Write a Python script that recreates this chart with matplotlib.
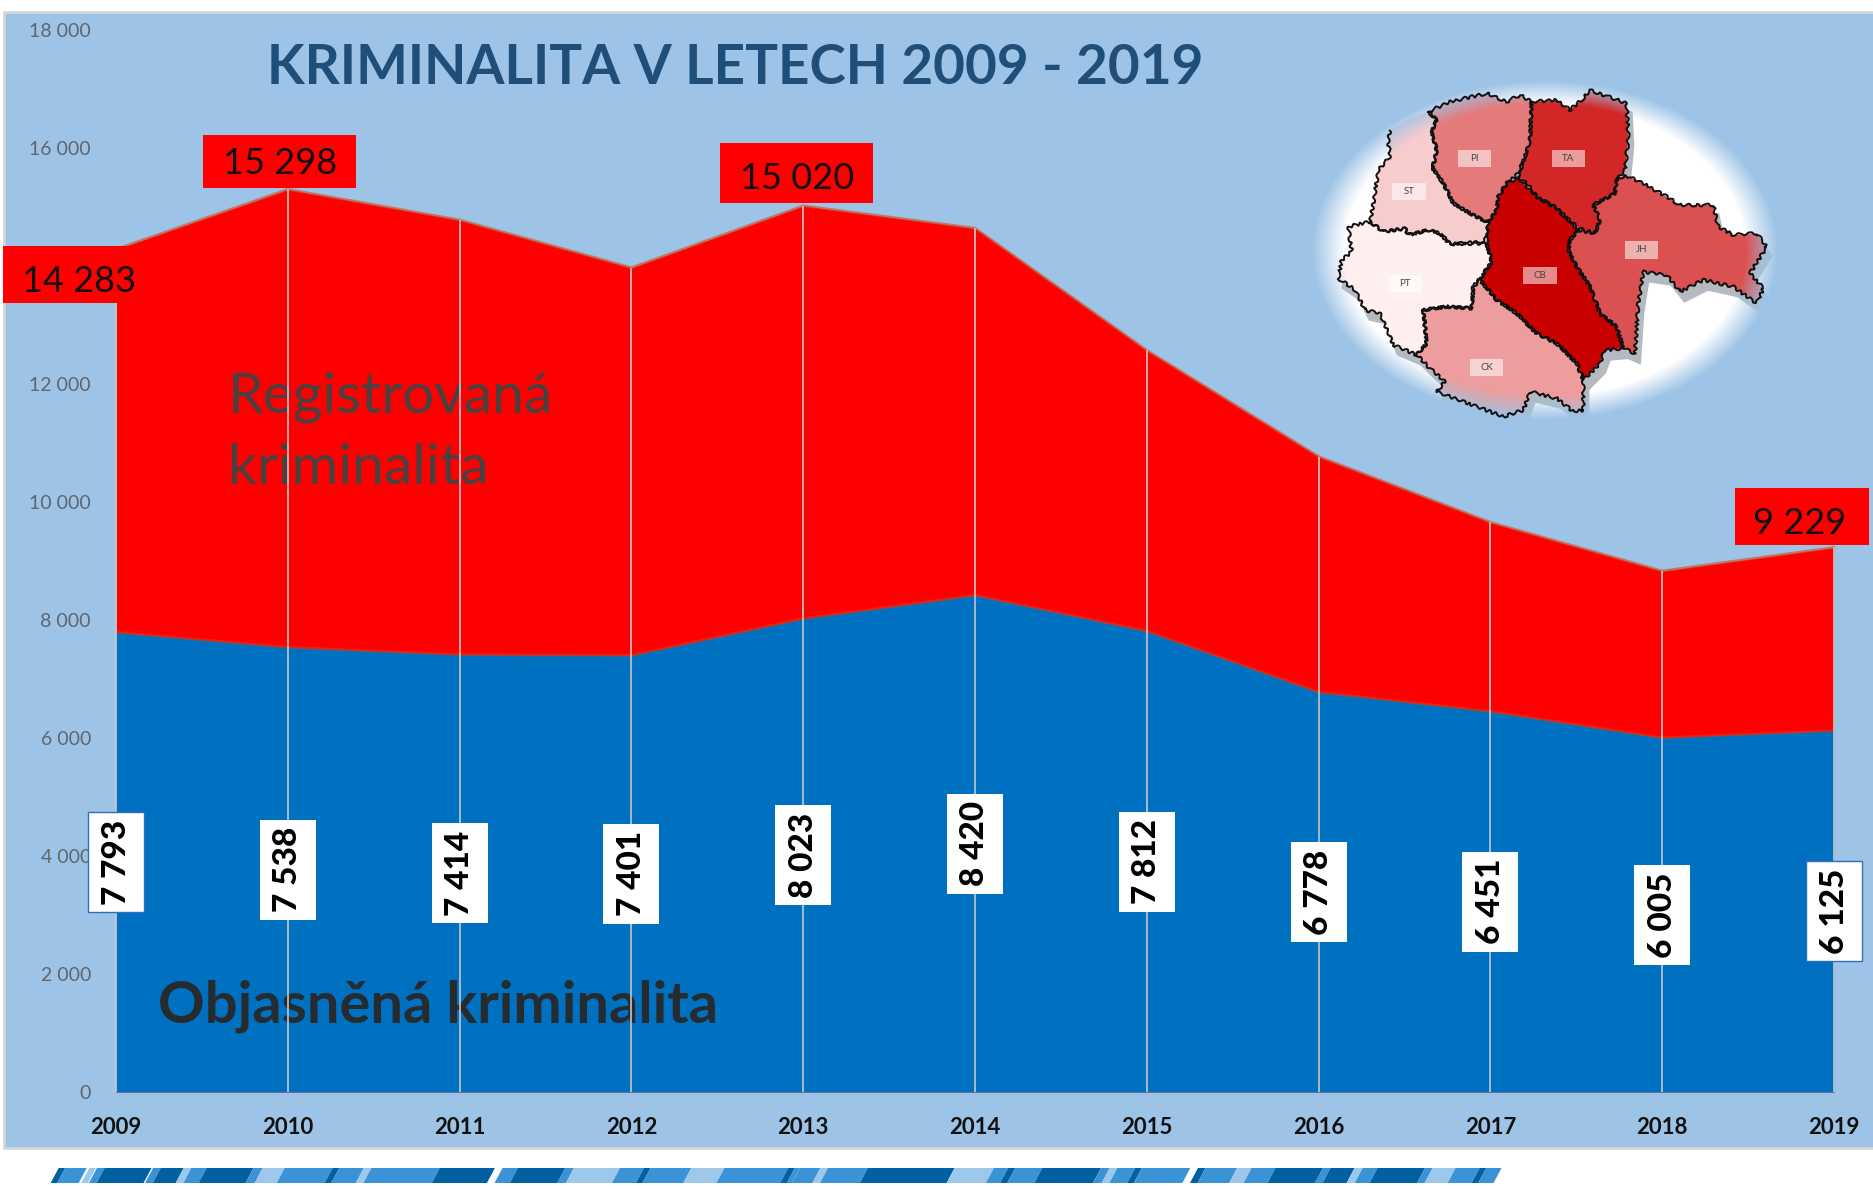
import numpy as np
import matplotlib
matplotlib.use("Agg")
import matplotlib.pyplot as plt
from matplotlib.patches import Rectangle, Polygon

W, H = 1874, 1189
plt.rcParams['font.family'] = ['Lato', 'DejaVu Sans']

years = [2009, 2010, 2011, 2012, 2013, 2014, 2015, 2016, 2017, 2018, 2019]
registered = [14283, 15298, 14780, 13970, 15020, 14640, 12570, 10770, 9655, 8830, 9229]
solved = [7793, 7538, 7414, 7401, 8023, 8420, 7812, 6778, 6451, 6005, 6125]
yticks = [0, 2000, 4000, 6000, 8000, 10000, 12000, 16000, 18000]
peak_years = [2009, 2010, 2013, 2019]

PANEL = '#9DC3E6'
BLUE = '#0070C0'
RED = '#FF0000'


def thin(v):
    return f"{v:,}".replace(",", " ")


fig = plt.figure(figsize=(W / 100, H / 100), dpi=100, facecolor='white')

# background panel and the striped band under it, in pixels
bg = fig.add_axes([0, 0, 1, 1], zorder=0)
bg.set_xlim(0, W)
bg.set_ylim(H, 0)
bg.axis('off')
bg.add_patch(Rectangle((4, 12), W, 1136, fc=PANEL, ec='#D3D6DA', lw=2))

dark, mid, light = '#0060A2', '#3A93D6', '#9DC8EC'
band_left = [(115, 128, dark), (128, 170, mid), (175, 188, light), (190, 205, mid), (205, 297, dark),
             (300, 315, mid), (315, 360, dark), (360, 375, light), (375, 405, mid), (405, 497, dark),
             (497, 515, mid), (515, 558, light), (558, 652, mid), (652, 665, dark), (665, 713, mid),
             (713, 728, light), (728, 862, mid), (862, 970, dark), (985, 1015, mid), (1015, 1108, dark),
             (1108, 1125, mid), (1125, 1215, light), (1215, 1262, mid), (1262, 1275, dark),
             (1275, 1355, mid), (1355, 1420, light), (1420, 1545, mid), (1545, 1558, dark), (1558, 1568, mid)]
band_right = [(0, 40, mid), (40, 55, light), (55, 133, mid), (133, 303, dark), (303, 380, light),
              (380, 408, mid), (408, 422, dark), (422, 475, mid), (475, 590, dark), (590, 607, mid),
              (607, 622, light), (622, 657, mid), (657, 670, dark), (670, 765, mid), (780, 795, dark),
              (795, 857, mid), (857, 885, light), (885, 932, mid), (932, 1025, dark), (1025, 1040, mid),
              (1040, 1087, dark), (1087, 1103, light), (1103, 1132, mid), (1132, 1225, dark),
              (1225, 1240, mid), (1240, 1285, light), (1285, 1332, mid), (1332, 1345, dark), (1345, 1375, mid)]
segs = [(a / 1.96, b / 1.96, c) for a, b, c in band_left] + [(800 + a / 1.96, 800 + b / 1.96, c) for a, b, c in band_right]
for a, b, c in segs:
    bg.add_patch(Polygon([(a, 1168), (b, 1168), (b - 8, 1183), (a - 8, 1183)], fc=c, ec='none'))

# main chart
x0, x1, ytop, y0 = 116, 1834, 30, 1092
ax = fig.add_axes([x0 / W, 1 - y0 / H, (x1 - x0) / W, (y0 - ytop) / H], zorder=1)
ax.patch.set_visible(False)
ax.set_xlim(2009, 2019)
ax.set_ylim(0, 18000)
for s in ax.spines.values():
    s.set_visible(False)

ax.fill_between(years, registered, color=RED, lw=0, zorder=1)
ax.plot(years, registered, color='#D8441A', lw=2, alpha=0.6, zorder=1.2, clip_on=False)
ax.fill_between(years, solved, color=BLUE, lw=0, zorder=1.5)
ax.plot(years, solved, color='#D8441A', lw=2, alpha=0.45, zorder=1.6)

ax.set_xticks(years)
ax.set_xticklabels(years, fontsize=16, fontweight='bold', color='#111111')
ax.set_yticks(yticks)
ax.set_yticklabels([thin(v) for v in yticks], fontsize=14, color='#5F6670')
ax.tick_params(length=0)
ax.tick_params(axis='x', pad=18)
ax.tick_params(axis='y', pad=18)

ax.text(2009.65, 11510, "Registrovaná", fontsize=41, color='#4A4040', zorder=3)
ax.text(2009.65, 10300, "kriminalita", fontsize=41, color='#4A4040', zorder=3)
ax.text(2009.245, 1170, "Objasněná kriminalita", fontsize=41.7, fontweight='bold', color='#262B30', zorder=3)

# drop lines run over the texts
ax.vlines(years, 0, registered, color='#C4C8CC', lw=1.2, zorder=4, clip_on=False)

px = (x1 - x0) / 10
py = (y0 - ytop) / 18000

# white vertical labels, centred in the blue area
for i, (yr, v) in enumerate(zip(years, solved)):
    edge = i in (0, len(years) - 1)
    ax.add_patch(Rectangle((yr - 28 / px, v / 2 - 50 / py), 56 / px, 100 / py, fc='white',
                           ec='#2F6FC0' if edge else 'none', lw=1, zorder=5, clip_on=False))
    ax.text(yr, v / 2, thin(v), rotation=90, ha='center', va='center', fontsize=24,
            fontweight=900, color='black', zorder=6)

# red labels: box left, right, centre y, height, text x, text y, pixels from the point
peak_box = [(-113, 20, 25, 57, -37, 32), (-85, 68, -28, 53, -8, -26),
            (-83, 70, -33, 60, -6, -27), (-99, 35, -31, 57, -34, -24)]
for yr, (l, r, dy, h, tx, ty) in zip(peak_years, peak_box):
    v = registered[years.index(yr)]
    ax.add_patch(Rectangle((yr + l / px, v - (dy + h / 2) / py), (r - l) / px, h / py, fc=RED, ec='none',
                           zorder=5, clip_on=False))
    ax.text(yr + tx / px, v - ty / py, thin(v), ha='center', va='center', fontsize=26, color='#111111',
            zorder=6, clip_on=False)

fig.text(735 / W, 1 - 68 / H, "KRIMINALITA V LETECH 2009 - 2019", fontsize=39.5, fontweight='bold',
         color='#1F4E79', ha='center', va='center', zorder=3)

# inset district map, under the chart so its corner never covers the red area
mx, my, mw, mh = 1290, 70, 520, 370
m = fig.add_axes([mx / W, 1 - (my + mh) / H, mw / W, mh / H], zorder=0.5)
m.set_xlim(0, 1560)
m.set_ylim(1110, 0)
m.axis('off')

districts = {
    'ST': ('#F7CCCD', (357, 365), [(415, 125), (440, 150), (425, 185), (440, 240), (428, 295), (460, 340), (490, 400),
                                   (540, 430), (595, 458), (585, 515), (480, 522), (450, 490), (415, 480), (355, 495),
                                   (345, 475), (280, 485), (240, 455), (250, 400), (265, 300), (300, 260), (295, 215),
                                   (300, 180), (350, 150)]),
    'PI': ('#E57A7A', (553, 265), [(415, 125), (480, 95), (590, 70), (650, 95), (690, 75), (725, 95), (720, 210),
                                   (705, 260), (685, 310), (650, 340), (625, 380), (620, 420), (595, 458), (540, 430),
                                   (490, 400), (460, 340), (428, 295), (440, 240), (425, 185), (440, 150)]),
    'TA': ('#D32626', (835, 265), [(725, 95), (800, 90), (840, 120), (880, 85), (900, 60), (1010, 100), (1015, 200),
                                   (1005, 300), (980, 330), (975, 370), (910, 405), (930, 450), (915, 490), (865, 475),
                                   (800, 415), (740, 380), (715, 345), (685, 320), (705, 260), (720, 210)]),
    'JH': ('#DB5050', (1055, 540), [(1005, 315), (1060, 340), (1130, 380), (1170, 405), (1270, 405), (1285, 470),
                                    (1330, 495), (1400, 490), (1430, 530), (1380, 610), (1420, 655), (1400, 700),
                                    (1330, 650), (1240, 630), (1170, 665), (1130, 615), (1060, 605), (1045, 700),
                                    (1035, 850), (1000, 835), (980, 770), (930, 730), (900, 650), (860, 590), (835, 540),
                                    (840, 510), (865, 480), (915, 490), (930, 450), (910, 405), (975, 370), (980, 330)]),
    'CB': ('#C80000', (750, 617), [(685, 325), (740, 380), (800, 415), (865, 480), (840, 510), (835, 540), (860, 590),
                                   (900, 650), (930, 730), (980, 770), (1000, 835), (945, 840), (930, 880), (880, 930),
                                   (860, 880), (800, 820), (740, 790), (680, 730), (620, 690), (570, 630), (605, 575),
                                   (590, 520), (595, 458), (620, 420), (625, 380), (650, 340)]),
    'PT': ('#FFF0EF', (346, 640), [(240, 455), (280, 485), (345, 475), (355, 495), (415, 480), (450, 490), (480, 522),
                                   (590, 520), (605, 575), (570, 625), (550, 650), (545, 715), (470, 710), (400, 720),
                                   (410, 820), (380, 855), (310, 825), (270, 730), (225, 720), (195, 660), (145, 625),
                                   (155, 570), (185, 545), (175, 470)]),
    'CK': ('#ED9D9D', (590, 892), [(550, 650), (570, 630), (620, 690), (680, 730), (740, 790), (800, 820), (860, 880),
                                   (880, 930), (880, 1020), (850, 1025), (800, 985), (720, 965), (700, 1020), (640, 1040),
                                   (440, 965), (465, 935), (420, 895), (380, 855), (410, 820), (400, 720), (470, 710),
                                   (545, 715)]),
}

m.add_patch(Rectangle((0, 0), 1560, 1110, fc='white', ec='none', zorder=0))
for name, (col, lab, pts) in districts.items():
    m.add_patch(Polygon(np.array(pts) + [14, 28], fc='#B4BABF', ec='#B4BABF', lw=2, zorder=1))
for name, (col, lab, pts) in districts.items():
    m.add_patch(Polygon(pts, fc=col, ec='none', zorder=2))

# soft oval mask
gx, gy = np.meshgrid(np.linspace(0, 1560, 520), np.linspace(0, 1110, 370))
rr = np.sqrt(((gx - 765) / 700) ** 2 + ((gy - 540) / 510) ** 2)
rgba = np.zeros(rr.shape + (4,))
rgba[..., :3] = matplotlib.colors.to_rgb(PANEL)
rgba[..., 3] = np.clip((rr - 0.86) / 0.14, 0, 1)
m.imshow(rgba, extent=(0, 1560, 1110, 0), zorder=3, aspect='auto', interpolation='bilinear')
m.set_xlim(0, 1560)
m.set_ylim(1110, 0)

for name, (col, lab, pts) in districts.items():
    # the upper left edge of ST has no outline in the picture
    outline = Polygon(pts[:-1] if name == 'ST' else pts, closed=name != 'ST', fc='none', ec='#111111', lw=1.4,
                      zorder=4, joinstyle='round')
    outline.set_sketch_params(scale=1.5, length=10, randomness=3)
    m.add_patch(outline)
    m.add_patch(Rectangle((lab[0] - 50, lab[1] - 26), 100, 52, fc='white', alpha=0.55, ec='none', zorder=5))
    m.text(lab[0], lab[1], name, fontsize=7, color='#444444', ha='center', va='center', zorder=6)

fig.savefig('out.png', dpi=100)
